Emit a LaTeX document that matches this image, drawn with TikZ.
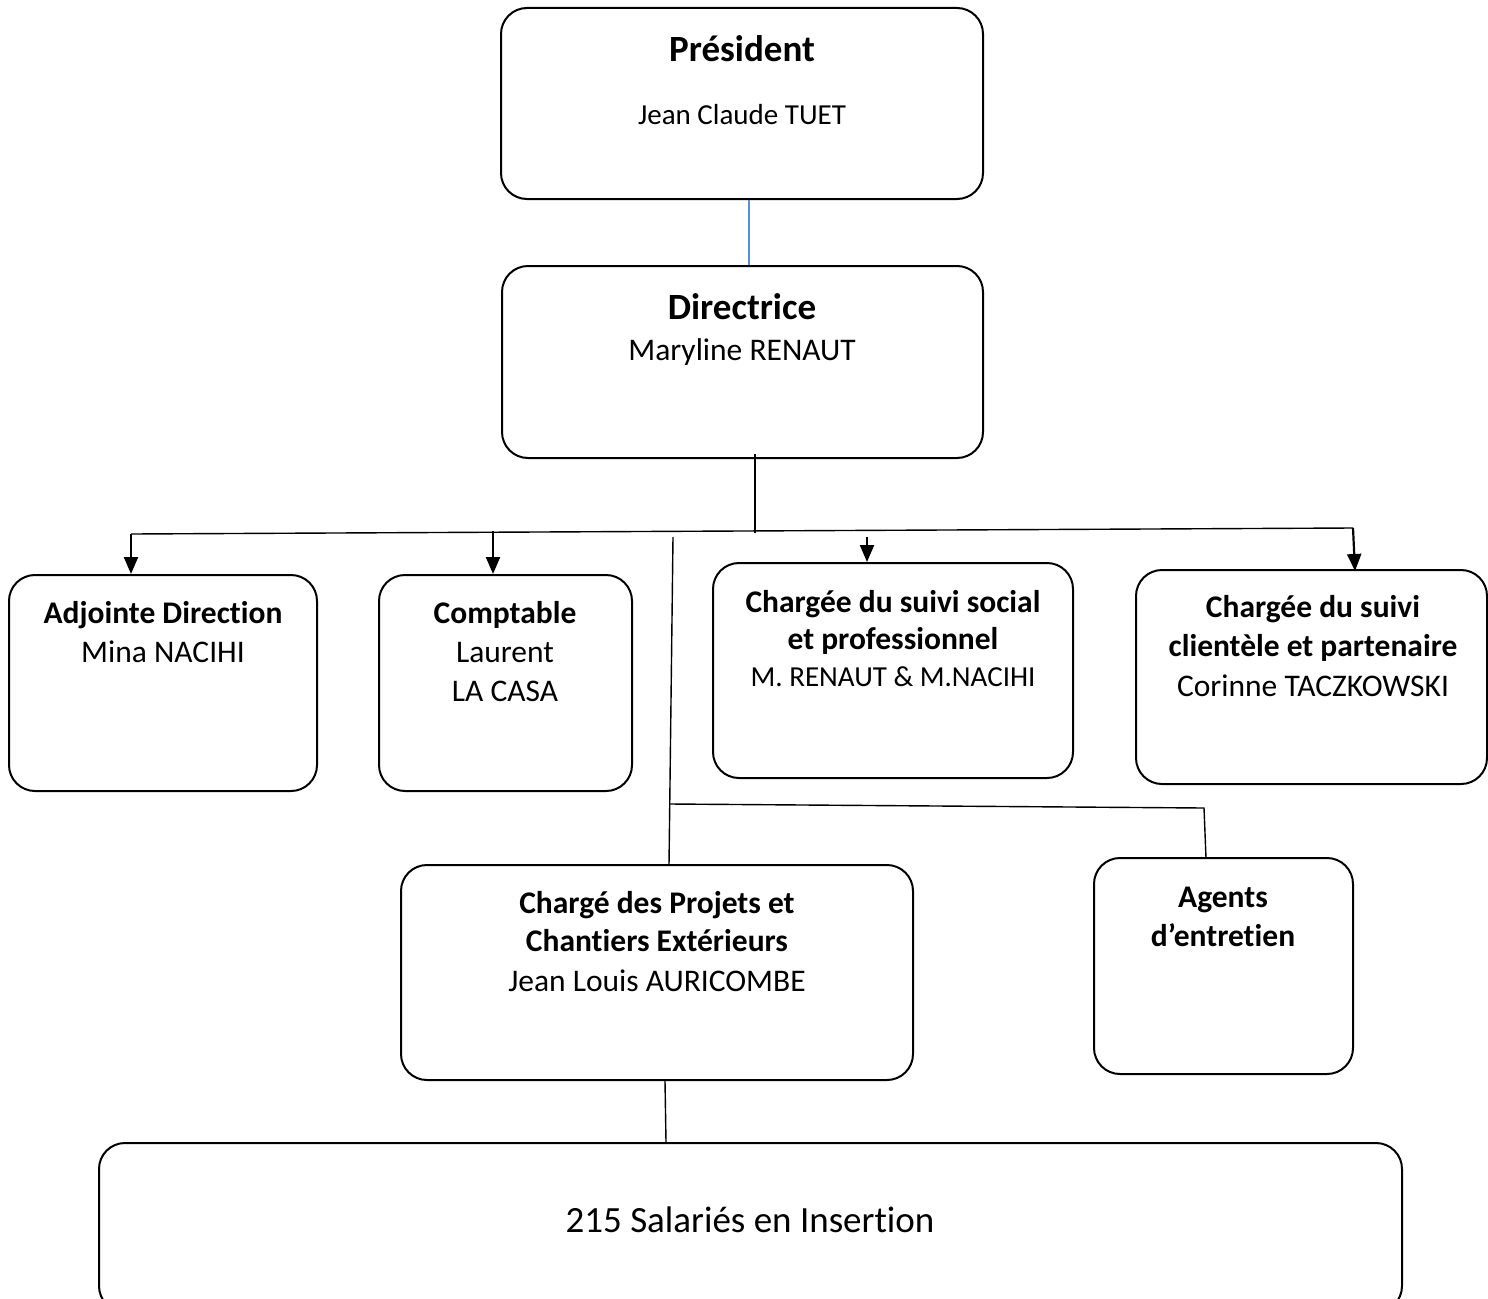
\documentclass[tikz,border=0pt]{standalone}
\usepackage{fontspec}
\setmainfont{Carlito}[Ligatures=NoCommon]
\usetikzlibrary{arrows.meta,calc}
\definecolor{linkblue}{HTML}{5B8FCB}
\tikzset{
  box/.style={draw=black, line width=2pt, rounded corners=26pt, inner sep=0pt, fill=white},
  big/.style={font=\fontsize{37}{45}\selectfont, anchor=base, inner sep=0pt},
  txt/.style={font=\fontsize{31.5}{38}\selectfont, anchor=base, inner sep=0pt},
  small/.style={font=\fontsize{29}{35}\selectfont, anchor=base, inner sep=0pt},
  conn/.style={draw=black, line width=1.4pt},
  arr/.style={draw=black, line width=2.2pt, -{Triangle[length=17pt,width=14pt]}},
}
\begin{document}
\begin{tikzpicture}[x=1pt,y=-1pt]
\clip (0,0) rectangle (1488,1298);
\fill[white] (0,0) rectangle (1488,1298);

% boxes
\node[box, minimum width=482pt, minimum height=191pt] (pres) at (742,103.5) {};
\node[box, minimum width=481pt, minimum height=192pt] (dir) at (742.5,362) {};
\node[box, minimum width=308pt, minimum height=216pt] (adj) at (163,683) {};
\node[box, minimum width=253pt, minimum height=216pt] (compt) at (505.5,683) {};
\node[box, minimum width=360pt, minimum height=215pt] (social) at (893,670.5) {};
\node[box, minimum width=351pt, minimum height=214pt] (client) at (1311.5,677) {};
\node[box, minimum width=512pt, minimum height=215pt] (proj) at (657,972.5) {};
\node[box, minimum width=259pt, minimum height=216pt] (agents) at (1223.5,966) {};
\node[box, minimum width=1303pt, minimum height=169pt] (sal) at (750.5,1227.5) {};

% texts
\node[big, font=\fontsize{37}{45}\selectfont\bfseries] (presT) at (742,62) {Président};
\node[small] (presN) at (742,124) {Jean Claude TUET};

\node[big, font=\fontsize{37}{45}\selectfont\bfseries] (dirT) at (742,319) {Directrice};
\node[txt] (dirN) at (742,360) {Maryline RENAUT};

\node[txt, font=\fontsize{31.5}{38}\selectfont\bfseries] (adjT) at (163,623) {Adjointe Direction};
\node[txt] (adjN) at (163,662) {Mina NACIHI};

\node[txt, font=\fontsize{31.5}{38}\selectfont\bfseries] (comptT) at (505,623) {Comptable};
\node[txt] (comptN1) at (505,662) {Laurent};
\node[txt] (comptN2) at (505,701) {LA CASA};

\node[txt, font=\fontsize{31.5}{38}\selectfont\bfseries] (socT1) at (893,612) {Chargée du suivi social};
\node[txt, font=\fontsize{31.5}{38}\selectfont\bfseries] (socT2) at (893,649) {et professionnel};
\node[small] (socN) at (893,686) {M. RENAUT \& M.NACIHI};

\node[txt, font=\fontsize{31.5}{38}\selectfont\bfseries] (cliT1) at (1313,617) {Chargée du suivi};
\node[txt, font=\fontsize{31.5}{38}\selectfont\bfseries] (cliT2) at (1313,656) {clientèle et partenaire};
\node[txt] (cliN) at (1313,696) {Corinne TACZKOWSKI};

\node[txt, font=\fontsize{31.5}{38}\selectfont\bfseries] (projT1) at (657,913) {Chargé des Projets et};
\node[txt, font=\fontsize{31.5}{38}\selectfont\bfseries] (projT2) at (657,951) {Chantiers Extérieurs};
\node[txt] (projN) at (657,991) {Jean Louis AURICOMBE};

\node[txt, font=\fontsize{31.5}{38}\selectfont\bfseries] (agT1) at (1223,907) {Agents};
\node[txt, font=\fontsize{31.5}{38}\selectfont\bfseries] (agT2) at (1223,946) {d’entretien};

\node[big] (salT) at (750,1232) {215 Salariés en Insertion};

% connector coordinates
\coordinate (pd) at (749,0);
\coordinate (jt) at (755,533);
\coordinate (bl) at (131,534);
\coordinate (br) at (1353,528);
\coordinate (a2) at (493,531);
\coordinate (a3) at (867,537);
\coordinate (a4) at (1355,571);
\coordinate (vt) at (673,537);
\coordinate (vb) at (669,865);
\coordinate (hl) at (670,804);
\coordinate (hr) at (1204,808);
\coordinate (ab) at (1206,858);
\coordinate (ps) at (665,0);

% connectors
\draw[linkblue, line width=1.1pt] (pres.south -| pd) -- (dir.north -| pd);
\draw[conn] (dir.south -| jt) ++(0,-5) -- (jt);
\draw[conn] (bl) -- (br);
\draw[arr] (bl) -- (adj.north -| bl);
\draw[arr] (a2) -- (compt.north -| a2);
\draw[arr] (a3) -- (social.north -| a3);
\draw[arr] (br) -- (a4);
\draw[conn] (vt) -- (vb);
\draw[conn] (hl) -- (hr) -- (ab);
\draw[conn] (proj.south -| ps) -- ($(sal.north -| ps)+(1,0)$);
\end{tikzpicture}
\end{document}
